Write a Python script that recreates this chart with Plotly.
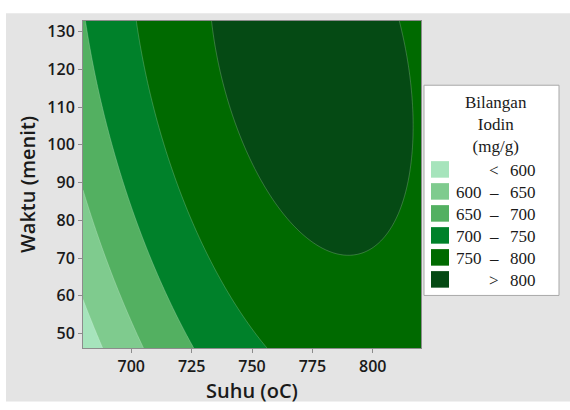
import numpy as np
import plotly.graph_objects as go

# Contour levels of the iodine number (mg/g) and their band colours
levels = [600, 650, 700, 750, 800]
band_lows = ["", "600", "650", "700", "750", ""]
band_signs = ["<", "\u2013", "\u2013", "\u2013", "\u2013", ">"]
band_highs = ["600", "650", "700", "750", "800", "800"]
band_colors = ["#a6e4bc", "#7fcb8e", "#53b061", "#00812a", "#006a00", "#054a14"]

# Points lying on each contour line: temperature (oC), time (min), level
pt_suhu = [732, 811, 736, 814, 749.6, 816, 766, 813, 787,
           701.7, 708, 720.4, 740, 757,
           680.8, 690, 699.6, 706.7, 710.8, 725.8,
           680, 692.5, 705,
           680, 688.3]
pt_waktu = [132.8, 132.8, 120, 120, 100, 100, 80, 80, 71.5,
            132.8, 100, 86.6, 60.8, 46.2,
            132.8, 113.2, 90, 72, 66, 46.2,
            85.5, 66, 46.2,
            58.2, 46.2]
pt_level = [800] * 9 + [750] * 5 + [700] * 6 + [650] * 3 + [600] * 2

suhu_range = [680, 820]
waktu_range = [46.2, 132.8]

# Full quadratic response surface fitted through the contour points
def design(s, w):
    X = (np.asarray(s) - 750.0) / 50.0
    Y = (np.asarray(w) - 90.0) / 30.0
    return np.column_stack([np.ones_like(X), X, Y, X * X, Y * Y, X * Y])

coef, *_ = np.linalg.lstsq(design(pt_suhu, pt_waktu), np.asarray(pt_level, float), rcond=None)

gx = np.linspace(suhu_range[0], suhu_range[1], 241)
gy = np.linspace(waktu_range[0], waktu_range[1], 241)
GX, GY = np.meshgrid(gx, gy)
Z = (design(GX.ravel(), GY.ravel()) @ coef).reshape(GX.shape)

# Stepwise scale: band midpoints 575, 625, ..., 825 map to 0, 0.2, ..., 1
n = len(band_colors)
cscale = []
for i, c in enumerate(band_colors):
    lo = max(0.0, (i - 0.5) / (n - 1))
    hi = min(1.0, (i + 0.5) / (n - 1))
    cscale += [[lo, c], [hi, c]]

fig = go.Figure()
fig.add_trace(go.Contour(
    x=gx, y=gy, z=Z,
    zauto=False, zmin=levels[0] - 25, zmax=levels[-1] + 25,
    colorscale=cscale, showscale=False,
    contours=dict(start=levels[0], end=levels[-1], size=levels[1] - levels[0], coloring="fill"),
    line=dict(width=0.6, color="rgba(255,255,255,0.35)"),
    hoverinfo="skip",
))

# Geometry of the plot area in pixels (570 x 410 page)
L, R, T, B = 83, 421, 21, 357
W, H = R - L, B - T
def px(x):
    return (x - L) / W
def py(y):
    return (B - y) / H

shapes = [
    # grey page background (white strip on top and left)
    dict(type="rect", xref="paper", yref="paper", layer="below",
         x0=px(6), x1=px(572), y0=py(412), y1=py(13),
         fillcolor="#e4e4e4", line=dict(width=0)),
    # legend box
    dict(type="rect", xref="paper", yref="paper",
         x0=px(424), x1=px(559), y0=py(303), y1=py(87),
         fillcolor="white", line=dict(color="#a8a8a8", width=1)),
]
serif = dict(family="Liberation Serif, Times New Roman, serif", size=17, color="#1a1a1a")
annotations = [
    dict(xref="paper", yref="paper", x=px(496), y=py(127), showarrow=False,
         text="Bilangan<br>Iodin<br>(mg/g)", font=serif, align="center",
         xanchor="center", yanchor="middle"),
]
for i, c in enumerate(band_colors):
    yc = 173.5 + i * 22.6
    shapes.append(dict(type="rect", xref="paper", yref="paper",
                       x0=px(431), x1=px(449), y0=py(yc + 8.5), y1=py(yc - 8.5),
                       fillcolor=c, line=dict(width=0)))
    for txt, xc in ((band_lows[i], 469.5), (band_signs[i], 494), (band_highs[i], 522.5)):
        if txt:
            annotations.append(dict(xref="paper", yref="paper", x=px(xc), y=py(yc + 1),
                                    text=txt, showarrow=False, font=serif,
                                    xanchor="center", yanchor="middle"))

axis_font = dict(family="Open Sans, sans-serif", size=16, color="#1a1a1a", weight=600)
title_font = dict(family="Open Sans, sans-serif", size=20, color="#1a1a1a", weight=600)

fig.update_layout(
    width=570, height=410,
    margin=dict(l=L, r=570 - R, t=T, b=410 - B),
    paper_bgcolor="white", plot_bgcolor="#e4e4e4",
    shapes=shapes, annotations=annotations,
    showlegend=False,
)
fig.update_xaxes(
    range=suhu_range, tickvals=[700, 725, 750, 775, 800],
    ticks="outside", ticklen=4, tickcolor="#8c8c8c", tickfont=axis_font,
    showgrid=False, zeroline=False, showline=True, linecolor="#8c8c8c", mirror=True,
    title=dict(text="Suhu (oC)", font=title_font, standoff=7),
)
fig.update_yaxes(
    range=waktu_range, tickvals=[50, 60, 70, 80, 90, 100, 110, 120, 130],
    ticks="outside", ticklen=4, tickcolor="#8c8c8c", tickfont=axis_font,
    showgrid=False, zeroline=False, showline=True, linecolor="#8c8c8c", mirror=True,
    title=dict(text="Waktu (menit)", font=title_font, standoff=6),
)

fig.write_html("out.html")
